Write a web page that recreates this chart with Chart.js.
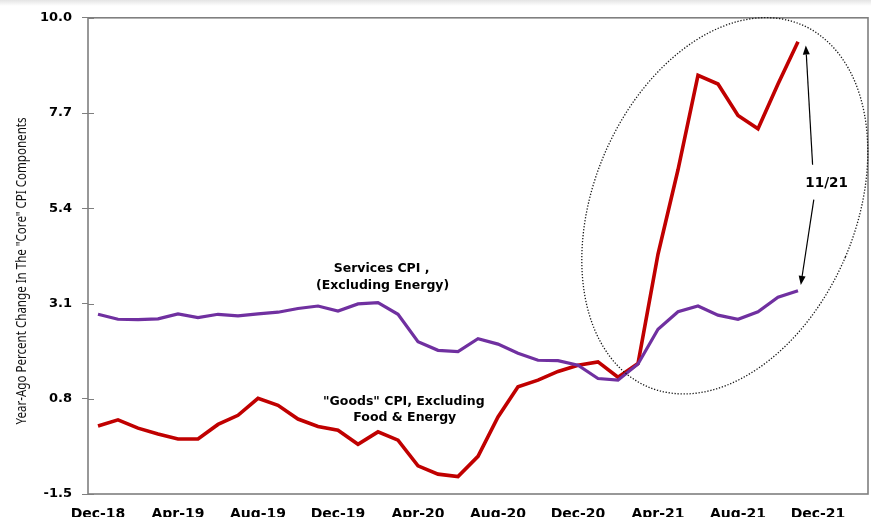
<!DOCTYPE html>
<html>
<head>
<meta charset="utf-8">
<script src="https://cdn.jsdelivr.net/npm/chart.js@4/dist/chart.umd.min.js"></script>
<style>
  html, body { margin: 0; padding: 0; background: #fff; overflow: hidden; width: 871px; height: 517px; }
  #wrap { position: absolute; left: 0; top: 0; width: 871px; height: 540px; }
  #topband { position: absolute; left: 0; top: 0; width: 871px; height: 6px; background: linear-gradient(#e4e4e4, #ffffff); pointer-events: none; }
</style>
</head>
<body>
<div id="wrap"><canvas id="c" width="871" height="540"></canvas></div>
<div id="topband"></div>
<script>
// ---- Data ----
const categories = [
  "Dec-18","Jan-19","Feb-19","Mar-19","Apr-19","May-19","Jun-19","Jul-19","Aug-19","Sep-19","Oct-19","Nov-19",
  "Dec-19","Jan-20","Feb-20","Mar-20","Apr-20","May-20","Jun-20","Jul-20","Aug-20","Sep-20","Oct-20","Nov-20",
  "Dec-20","Jan-21","Feb-21","Mar-21","Apr-21","May-21","Jun-21","Jul-21","Aug-21","Sep-21","Oct-21","Nov-21",
  "Dec-21","Jan-22","Feb-22"
];
const servicesCPI = [
  2.84, 2.72, 2.71, 2.73, 2.85, 2.76, 2.84, 2.80, 2.85, 2.89, 2.98, 3.04,
  2.92, 3.09, 3.12, 2.84, 2.18, 1.97, 1.94, 2.25, 2.12, 1.90, 1.73, 1.72,
  1.61, 1.29, 1.25, 1.64, 2.48, 2.90, 3.04, 2.82, 2.72, 2.90, 3.25, 3.41
];
const goodsCPI = [
  0.14, 0.29, 0.09, -0.05, -0.17, -0.17, 0.18, 0.40, 0.81, 0.64, 0.31, 0.13,
  0.04, -0.30, 0.00, -0.20, -0.82, -1.02, -1.08, -0.59, 0.36, 1.09, 1.25, 1.46,
  1.61, 1.69, 1.32, 1.65, 4.29, 6.33, 8.61, 8.40, 7.64, 7.32, 8.40, 9.42
];
const yTicks = [-1.5, 0.8, 3.1, 5.4, 7.7, 10.0];
const xLabelEvery = 4;
const yTitle = 'Year-Ago Percent Change In The "Core" CPI Components';
const servicesLabel = ["Services CPI ,", "(Excluding Energy)"];
const goodsLabel = ['"Goods" CPI, Excluding', "Food & Energy"];
const callout = "11/21";

// annotation anchors in data units (category index, value)
const notes = {
  services: [{i: 14.18, v: 3.93}, {i: 14.23, v: 3.54}],
  goods: [{i: 15.29, v: 0.73}, {i: 15.34, v: 0.35}],
  callout: {i: 36.43, v: 5.99},
  arrowUp: {from: {i: 35.73, v: 6.45}, to: {i: 35.39, v: 9.33}},
  arrowDown: {from: {i: 35.79, v: 5.61}, to: {i: 35.14, v: 3.55}},
  ellipse: {i: 31.34, v: 5.46, ri: 6.55, rv: 4.75, rot: 23}
};

const AXIS_GRAY = '#7f7f7f';
const BOLD = '"DejaVu Sans", Verdana, sans-serif';

function arrow(ctx, x1, y1, x2, y2) {
  const ang = Math.atan2(y2 - y1, x2 - x1);
  const len = 9, hw = 3.5;
  const bx = x2 - len * Math.cos(ang), by = y2 - len * Math.sin(ang);
  ctx.beginPath();
  ctx.moveTo(x1, y1);
  ctx.lineTo(bx, by);
  ctx.stroke();
  ctx.beginPath();
  ctx.moveTo(x2, y2);
  ctx.lineTo(bx + hw * Math.sin(ang), by - hw * Math.cos(ang));
  ctx.lineTo(bx - hw * Math.sin(ang), by + hw * Math.cos(ang));
  ctx.closePath();
  ctx.fill();
}

const decor = {
  id: 'decor',
  afterDraw(chart) {
    const ctx = chart.ctx, a = chart.chartArea;
    const xs = chart.scales.x, ys = chart.scales.y;
    const P = (p) => [xs.getPixelForValue(p.i), ys.getPixelForValue(p.v)];
    ctx.save();
    // frame
    ctx.strokeStyle = AXIS_GRAY;
    ctx.lineWidth = 1.6;
    ctx.strokeRect(a.left, a.top, a.right - a.left, a.bottom - a.top);
    // inner tick marks on y axis
    ctx.lineWidth = 1;
    yTicks.forEach(v => {
      const y = Math.round(ys.getPixelForValue(v)) + 0.5;
      ctx.beginPath();
      ctx.moveTo(a.left, y);
      ctx.lineTo(a.left + 6, y);
      ctx.stroke();
    });
    // y title (condensed to the reference's narrow face)
    ctx.save();
    ctx.translate(22, 271);
    ctx.rotate(-Math.PI / 2);
    ctx.font = '13.5px "Liberation Sans Narrow", "Arial Narrow", "Noto Sans", sans-serif';
    const w = ctx.measureText(yTitle).width;
    const targetW = 307;
    if (w > targetW) ctx.scale(targetW / w, 1);
    ctx.fillStyle = '#111';
    ctx.textAlign = 'center';
    ctx.textBaseline = 'middle';
    ctx.fillText(yTitle, 0, 0);
    ctx.restore();
    // series labels
    ctx.fillStyle = '#000';
    ctx.textAlign = 'center';
    ctx.textBaseline = 'middle';
    ctx.font = 'bold 12.5px ' + BOLD;
    servicesLabel.forEach((t, k) => { const [x, y] = P(notes.services[k]); ctx.fillText(t, x, y); });
    goodsLabel.forEach((t, k) => { const [x, y] = P(notes.goods[k]); ctx.fillText(t, x, y); });
    ctx.font = 'bold 13.5px ' + BOLD;
    { const [x, y] = P(notes.callout); ctx.fillText(callout, x, y); }
    // arrows
    ctx.strokeStyle = '#000';
    ctx.fillStyle = '#000';
    ctx.lineWidth = 1.2;
    [notes.arrowUp, notes.arrowDown].forEach(ar => {
      const [x1, y1] = P(ar.from), [x2, y2] = P(ar.to);
      arrow(ctx, x1, y1, x2, y2);
    });
    // dotted ellipse
    const e = notes.ellipse;
    const [cx, cy] = P(e);
    const rx = Math.abs(xs.getPixelForValue(e.i + e.ri) - cx);
    const ry = Math.abs(ys.getPixelForValue(e.v + e.rv) - cy);
    ctx.strokeStyle = '#1a1a1a';
    ctx.lineWidth = 1.3;
    ctx.setLineDash([1.3, 1.7]);
    ctx.beginPath();
    ctx.ellipse(cx, cy, rx, ry, e.rot * Math.PI / 180, 0, Math.PI * 2);
    ctx.stroke();
    ctx.restore();
  }
};

new Chart(document.getElementById('c'), {
  type: 'line',
  data: {
    labels: categories,
    datasets: [
      { label: 'Services CPI, Excluding Energy', data: servicesCPI, borderColor: '#7030a0', borderWidth: 3.2,
        pointRadius: 0, tension: 0, fill: false },
      { label: '"Goods" CPI, Excluding Food & Energy', data: goodsCPI, borderColor: '#c00000', borderWidth: 3.6,
        pointRadius: 0, tension: 0, fill: false }
    ]
  },
  options: {
    responsive: false,
    animation: false,
    devicePixelRatio: 1,
    layout: { padding: { top: 15, right: 3, left: 0, bottom: 0 } },
    plugins: { legend: { display: false }, tooltip: { enabled: false }, title: { display: false } },
    scales: {
      x: {
        type: 'category',
        offset: true,
        border: { display: false },
        grid: { display: false, drawTicks: false },
        ticks: {
          autoSkip: false, maxRotation: 0, minRotation: 0, padding: 12,
          color: '#000', font: { family: BOLD, weight: 'bold', size: 14 },
          callback: (val, idx) => (idx % xLabelEvery === 0 ? categories[idx] : '')
        },
        afterFit: (s) => { s.height = 540 - 494; }
      },
      y: {
        min: -1.5, max: 10.0,
        border: { display: false },
        grid: { drawOnChartArea: false, drawTicks: true, tickLength: 6, color: AXIS_GRAY, lineWidth: 1 },
        ticks: {
          padding: 10, color: '#000', font: { family: BOLD, weight: 'bold', size: 13 },
          callback: (v) => Number(v).toFixed(1)
        },
        afterBuildTicks: (s) => { s.ticks = yTicks.map(v => ({ value: v })); },
        afterFit: (s) => { s.width = 88; }
      }
    }
  },
  plugins: [decor]
});
</script>
</body>
</html>
